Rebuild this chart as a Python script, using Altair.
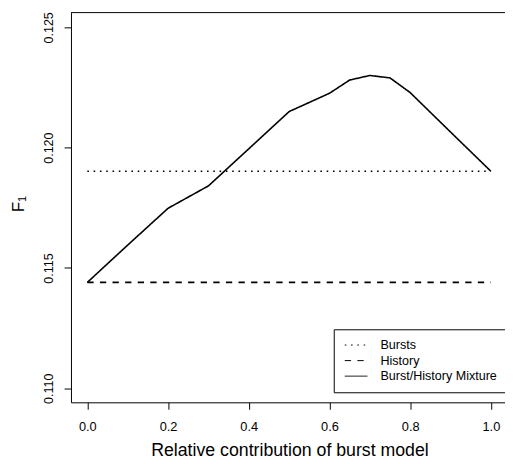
import altair as alt
import pandas as pd

# ---- data ----
mix_x = [0.0, 0.1, 0.2, 0.3, 0.4, 0.5, 0.6, 0.65, 0.7, 0.75, 0.8, 0.9, 1.0]
mix_y = [0.1144, 0.11595, 0.11748, 0.11841, 0.11995, 0.1215, 0.12226,
         0.12281, 0.1230, 0.1229, 0.12229, 0.12065, 0.11902]
bursts_x = [0.0, 1.0]
bursts_y = [0.11902, 0.11902]
history_x = [0.0, 1.0]
history_y = [0.1144, 0.1144]

series_names = ["Bursts", "History", "Burst/History Mixture"]
x_ticks = [0.0, 0.2, 0.4, 0.6, 0.8, 1.0]
y_ticks = [0.110, 0.115, 0.120, 0.125]

rows = []
for name, xs, ys in [
    ("Bursts", bursts_x, bursts_y),
    ("History", history_x, history_y),
    ("Burst/History Mixture", mix_x, mix_y),
]:
    for xv, yv in zip(xs, ys):
        rows.append({"series": name, "x": xv, "y": yv})
df = pd.DataFrame(rows)

W, H = 441, 396
FONT = "Liberation Sans"

lines = alt.Chart(df).mark_line(color="black", strokeWidth=1.6).encode(
    x=alt.X(
        "x:Q",
        scale=alt.Scale(domain=[-0.0405, 1.035], nice=False, zero=False),
        axis=alt.Axis(
            values=x_ticks, format=".1f", grid=False,
            title="Relative contribution of burst model",
            titleFontSize=18, titleFont=FONT, titleFontWeight="normal",
            titleColor="black", titleBaseline="alphabetic", titleY=54,
            titleX=222, titleAlign="center",
            labelFont=FONT, labelFontSize=13, labelColor="black",
            labelBaseline="top", labelPadding=12,
            tickSize=7, tickColor="black", domainColor="black",
        ),
    ),
    y=alt.Y(
        "y:Q",
        scale=alt.Scale(domain=[0.109415, 0.125614], nice=False, zero=False),
        axis=alt.Axis(
            values=y_ticks, format=".3f", grid=False,
            title="F₁",
            titleFontSize=17.5, titleFont=FONT, titleFontWeight="normal",
            titleColor="black", titleAngle=270, titleBaseline="alphabetic",
            titleX=-48, titleY=194,
            labelFont=FONT, labelFontSize=12.75, labelColor="black",
            labelAngle=270, labelAlign="center", labelBaseline="alphabetic",
            labelPadding=11.5,
            tickSize=7, tickColor="black", domainColor="black",
        ),
    ),
    strokeDash=alt.StrokeDash(
        "series:N",
        scale=alt.Scale(domain=series_names,
                        range=[[1.6, 4.8], [6.4, 6.4], [1, 0]]),
        sort=series_names,
        legend=alt.Legend(
            title=None, orient="none", legendX=267, legendY=321.8,
            symbolType="stroke", symbolSize=529, symbolStrokeColor="black",
            symbolStrokeWidth=1, labelFont=FONT, labelFontSize=12.75,
            labelColor="black", padding=8.5, symbolOffset=2.2,
            labelOffset=12.8, clipHeight=15, rowPadding=0.8,
            strokeColor="black", fillColor="white",
        ),
    ),
    order=alt.Order("x:Q"),
)

top_border = alt.Chart(pd.DataFrame({"k": [0]})).mark_rule(
    color="black", strokeWidth=1
).encode(x=alt.value(0), x2=alt.value(W), y=alt.value(0))

chart = alt.layer(lines, top_border).properties(
    width=W, height=H,
    padding={"left": 64, "top": 1, "right": 0, "bottom": 59},
    autosize="none",
    background="white",
).configure_view(stroke=None)

chart.save("out.html", embed_options={"renderer": "svg", "actions": False})
